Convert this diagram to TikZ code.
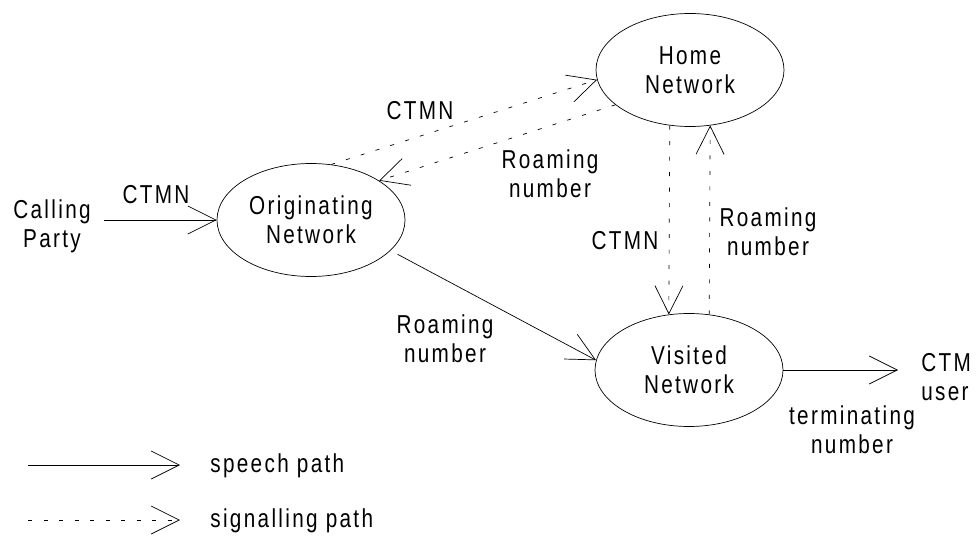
\documentclass[tikz,border=0pt]{standalone}
\usepackage{fontspec}
\setmainfont{Liberation Sans}[LetterSpace=9,FakeStretch=0.8]
\usetikzlibrary{arrows.meta,shapes.geometric,positioning}

\begin{document}
\begin{tikzpicture}[x=1bp,y=-1bp,line width=0.7bp,
  font=\fontsize{26}{29}\selectfont,
  net/.style={draw,ellipse,minimum width=188bp,minimum height=113bp,inner sep=0pt,align=center},
  lbl/.style={align=center,inner sep=0pt},
  speech/.style={-{Straight Barb[length=28bp,width=28bp]}},
  signal/.style={speech,dash pattern=on 4bp off 11.5bp}]
\useasboundingbox (0,0) rectangle (978,545);

\node[net] (home) at (690,70) {Home\\Network};
\node[net] (orig) at (311,220) {Originating\\Network};
\node[net] (vis) at (689,370) {Visited\\Network};

\node[lbl] (caller) at (52,226) {Calling\\Party};
\node[lbl,anchor=west,align=left] (user) at (921,377) {CTM\\user};

\draw[speech] ([xshift=13bp]caller.east |- orig.west) -- (orig.west);
\node[lbl] (ctmnA) at (156,195) {CTMN};

\draw[signal] (orig.70) -- (home.186);
\node[lbl] (ctmnB) at (420,111) {CTMN};

\draw[signal] (home.205) -- (orig.30);
\node[lbl] (roamA) at (550,174) {Roaming\\number};

\draw[signal] (home.250) -- (vis.110);
\node[lbl] (ctmnC) at (625,241) {CTMN};

\draw[signal] (vis.70) -- (home.290);
\node[lbl] (roamB) at (768,232) {Roaming\\number};

\draw[speech,shorten <=8bp] (orig.-21) -- (vis.174);
\node[lbl] (roamC) at (445,339) {Roaming\\number};

\draw[speech,shorten >=23bp] (vis.east) -- (vis.east -| user.west);
\node[lbl] (term) at (852,430) {terminating\\number};

% legend
\node[lbl,anchor=west] (speechkey) at (210,466) {speech path};
\node[lbl,anchor=west] (signalkey) at (210,521) {signalling path};
\coordinate (speechtail) at (28,465);
\coordinate (signaltail) at (28,520);
\draw[speech,shorten >=30bp] (speechtail) -- (speechtail -| speechkey.west);
\draw[signal,shorten >=30bp] (signaltail) -- (signaltail -| signalkey.west);

\end{tikzpicture}
\end{document}
